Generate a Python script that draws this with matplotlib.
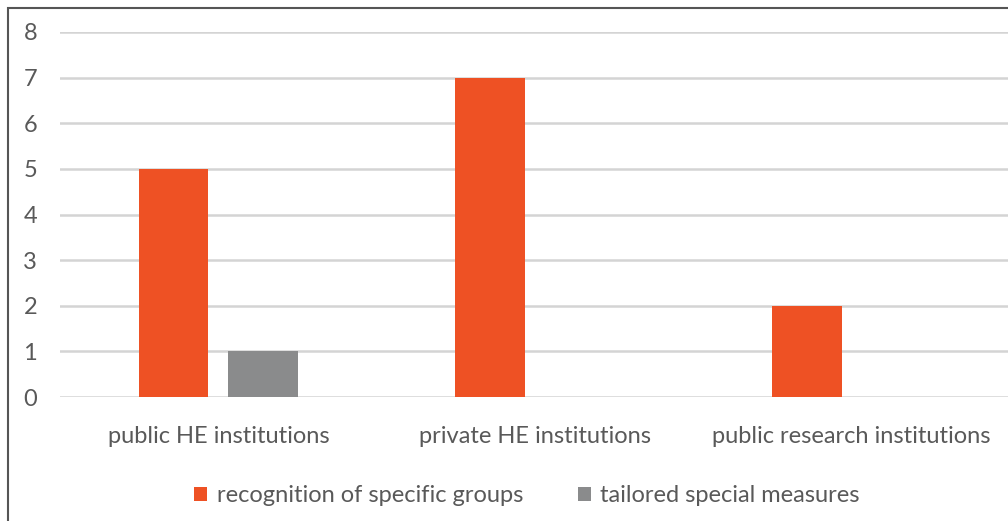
import numpy as np
import matplotlib.pyplot as plt
from matplotlib.patches import Rectangle

categories = ['public HE institutions', 'private HE institutions', 'public research institutions']
series_names = ['recognition of specific groups', 'tailored special measures']
recognition = [5, 7, 2]
tailored = [1, 0, 0]
yticks = [0, 1, 2, 3, 4, 5, 6, 7, 8]

orange = '#EE5124'
grey = '#8A8B8C'
text_col = '#595959'

plt.rcParams['font.family'] = ['Lato', 'DejaVu Sans']

W, H = 1008, 521
fig = plt.figure(figsize=(W / 100, H / 100), dpi=100)
ax = fig.add_axes([60 / W, 1 - 397 / H, 950 / W, 365 / H])

x = np.arange(len(categories))
bw = 0.22
gap = 0.063
ax.bar(x - (bw + gap) / 2, recognition, bw, color=orange, label=series_names[0], zorder=3)
ax.bar(x + (bw + gap) / 2, tailored, bw, color=grey, label=series_names[1], zorder=3)

ax.set_xlim(-0.5, len(categories) - 0.5)
ax.set_ylim(0, 8)
ax.set_yticks(yticks)
ax.yaxis.grid(True, color='#D4D4D4', linewidth=1.8, zorder=0)
ax.set_axisbelow(True)
for s in ax.spines.values():
    s.set_visible(False)
ax.set_xticks(x)
ax.set_xticklabels(categories)
ax.tick_params(axis='both', length=0, labelsize=17, colors=text_col)
ax.tick_params(axis='x', pad=21)
ax.tick_params(axis='y', pad=16.5)

leg = fig.legend(loc='center', bbox_to_anchor=(527 / W, 1 - 496 / H), ncol=2,
                 frameon=False, fontsize=17, handlelength=0.55, handleheight=0.55,
                 handletextpad=0.42, columnspacing=2.3)
for t in leg.get_texts():
    t.set_color(text_col)

# outer frame (cropped on right and bottom)
fig.patches.append(Rectangle((8 / W, -0.05), 1.1, 1 - 8 / H + 0.05, transform=fig.transFigure,
                             fill=False, edgecolor='#555555', linewidth=1.5))

fig.savefig('out.png', dpi=100)
